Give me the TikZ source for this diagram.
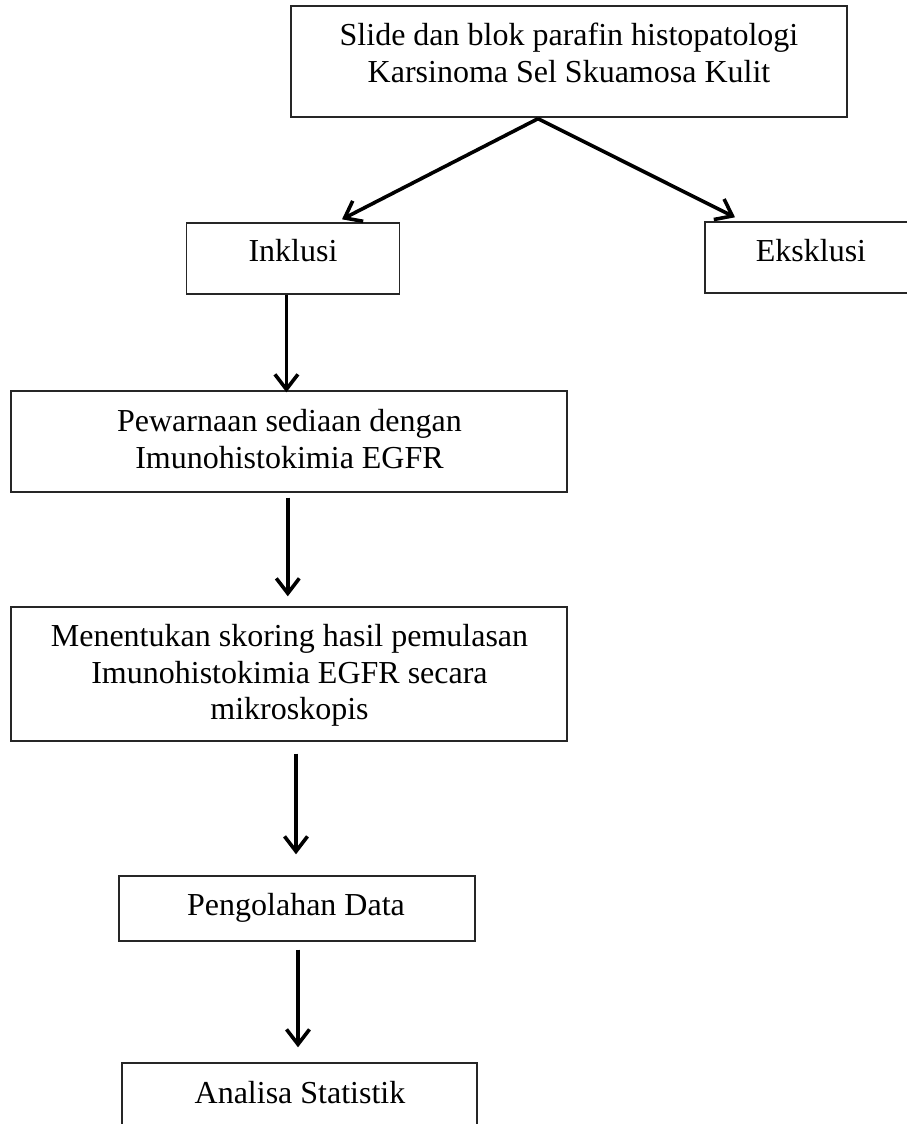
\documentclass[tikz,border=0pt]{standalone}
\usepackage{fontspec}
\setmainfont{Liberation Serif}
\usetikzlibrary{arrows.meta}
\tikzset{
  boxnode/.style={draw=black!85, line width=1.4pt, rectangle, inner sep=0pt},
  txt/.style={inner sep=0pt, align=center, font=\fontsize{32}{36.7}\selectfont},
  conn/.style={line width=3.6pt, -{Straight Barb[length=15pt,width=23pt]}}
}
\begin{document}
\begin{tikzpicture}[x=1pt,y=-1pt]
\useasboundingbox (0,0) rectangle (906,1124);
\node[boxnode, minimum width=556pt, minimum height=111pt] (top) at (569,61.5) {};
\node[boxnode, minimum width=213pt, minimum height=71pt] (inkl) at (292.7,258.5) {};
\node[boxnode, minimum width=212pt, minimum height=71pt] (eks) at (811,257.5) {};
\node[boxnode, minimum width=556pt, minimum height=101pt] (pew) at (289,441.5) {};
\node[boxnode, minimum width=556pt, minimum height=134pt] (men) at (289,674) {};
\node[boxnode, minimum width=356pt, minimum height=65pt] (pen) at (297,908.5) {};
\node[boxnode, minimum width=355pt, minimum height=65pt] (ana) at (299.5,1095.5) {};

\node[txt, anchor=north] (toptxt) at (569,23) {Slide dan blok parafin histopatologi\\Karsinoma Sel Skuamosa Kulit};
\node[txt, anchor=base] (inkltxt) at (293,261) {Inklusi};
\node[txt, anchor=base] (ekstxt) at (811,261) {Eksklusi};
\node[txt, anchor=north] (pewtxt) at (289.5,409) {Pewarnaan sediaan dengan\\Imunohistokimia EGFR};
\node[txt, anchor=north] (mentxt) at (289.5,624) {Menentukan skoring hasil pemulasan\\Imunohistokimia EGFR secara\\mikroskopis};
\node[txt, anchor=base] (pentxt) at (296,915) {Pengolahan Data};
\node[txt, anchor=base] (anatxt) at (300,1103) {Analisa Statistik};

\draw[conn] ([xshift=-31pt,yshift=-1pt]top.south) -- ([xshift=49.3pt,yshift=3pt]inkl.north);
\draw[conn] ([xshift=-31pt,yshift=-1pt]top.south) -- ([xshift=-76pt,yshift=4pt]eks.north);
\draw[conn] ([xshift=-6.3pt]inkl.south) -- ([xshift=-2.6pt,yshift=-2pt]pew.north);
\draw[conn] ([xshift=-1.2pt,yshift=-5pt]pew.south) -- ([xshift=-1.2pt,yshift=10pt]men.north);
\draw[conn] ([xshift=7pt,yshift=-12pt]men.south) -- ([xshift=-1pt,yshift=21pt]pen.north);
\draw[conn] ([xshift=1pt,yshift=-8pt]pen.south) -- ([xshift=-1.5pt,yshift=15pt]ana.north);
\end{tikzpicture}
\end{document}
